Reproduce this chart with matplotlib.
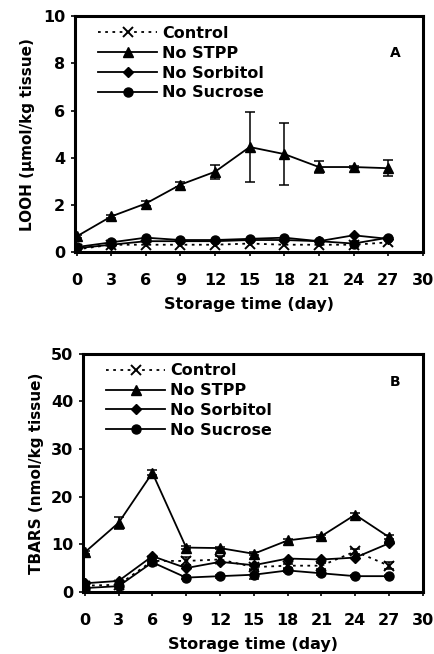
import matplotlib
matplotlib.use("Agg")
import matplotlib.pyplot as plt

plt.rcParams["font.family"] = ["DejaVu Sans"]
plt.rcParams["font.weight"] = "bold"

days = [0, 3, 6, 9, 12, 15, 18, 21, 24, 27]
x_ticks = [0, 3, 6, 9, 12, 15, 18, 21, 24, 27, 30]

# Panel A: LOOH (umol/kg tissue)
looh_control = [0.1, 0.3, 0.3, 0.3, 0.3, 0.35, 0.3, 0.3, 0.3, 0.4]
looh_no_stpp = [0.65, 1.5, 2.05, 2.85, 3.4, 4.45, 4.15, 3.6, 3.6, 3.55]
looh_no_stpp_err = [0.05, 0.08, 0.1, 0.1, 0.3, 1.5, 1.3, 0.25, 0.05, 0.35]
looh_no_sorbitol = [0.15, 0.3, 0.45, 0.45, 0.45, 0.5, 0.5, 0.45, 0.7, 0.55]
looh_no_sucrose = [0.2, 0.4, 0.6, 0.5, 0.5, 0.55, 0.6, 0.45, 0.35, 0.6]

# Panel B: TBARS (nmol/kg tissue)
tbars_control = [1.3, 1.5, 6.5, 6.5, 6.8, 5.2, 5.5, 5.5, 8.5, 5.5]
tbars_control_err = [0.2, 0.2, 0.3, 0.8, 0.8, 0.5, 0.4, 0.6, 0.5, 0.8]
tbars_no_stpp = [8.3, 14.5, 25.0, 9.3, 9.2, 8.0, 10.8, 11.7, 16.2, 11.5]
tbars_no_stpp_err = [0.3, 1.2, 0.5, 0.3, 0.3, 0.3, 0.3, 0.3, 0.4, 0.5]
tbars_no_sorbitol = [1.8, 2.3, 7.5, 5.0, 6.3, 5.6, 7.0, 6.8, 7.2, 10.2]
tbars_no_sucrose = [0.8, 1.2, 6.2, 3.0, 3.3, 3.6, 4.5, 3.9, 3.3, 3.3]
tbars_no_sucrose_err = [0.2, 0.2, 0.3, 0.3, 0.3, 1.0, 0.3, 0.3, 0.2, 0.2]

fig = plt.figure(figsize=(4.35, 6.54), dpi=100)
ax_a = fig.add_axes([0.172, 0.615, 0.800, 0.360])
ax_b = fig.add_axes([0.191, 0.095, 0.781, 0.364])

err_kw = dict(fmt="none", ecolor="black", capsize=3.5, elinewidth=1.1, capthick=1.1)


def draw_panel(ax, control, stpp, sorb, sucr, stpp_err, ctrl_err=None, sucr_err=None):
    ax.plot(days, control, color="black", lw=1.3, ls=(0, (1.5, 2.5)), marker="x",
            ms=6.5, mew=1.4, label="Control")
    ax.plot(days, stpp, color="black", lw=1.3, marker="^", ms=7, label="No STPP")
    ax.plot(days, sorb, color="black", lw=1.3, marker="D", ms=5, label="No Sorbitol")
    ax.plot(days, sucr, color="black", lw=1.3, marker="o", ms=6.5, label="No Sucrose")
    ax.errorbar(days, stpp, yerr=stpp_err, **err_kw)
    if ctrl_err is not None:
        ax.errorbar(days, control, yerr=ctrl_err, **err_kw)
    if sucr_err is not None:
        ax.errorbar(days, sucr, yerr=sucr_err, **err_kw)
    ax.set_xticks(x_ticks)
    for sp in ax.spines.values():
        sp.set_linewidth(2.2)
    ax.tick_params(axis="both", labelsize=11.5, width=1.2, length=3, direction="out")
    ax.tick_params(axis="x", pad=12)
    ax.tick_params(axis="y", pad=4)
    ax.legend(loc="upper left", frameon=False, fontsize=11.5, handlelength=3.7,
              handletextpad=0.3, labelspacing=0.3, borderaxespad=0.2,
              bbox_to_anchor=(0.04, 1.0))


draw_panel(ax_a, looh_control, looh_no_stpp, looh_no_sorbitol, looh_no_sucrose,
           looh_no_stpp_err)
ax_a.set_xlim(-0.15, 30)
ax_a.set_ylim(0, 10)
ax_a.set_yticks([0, 2, 4, 6, 8, 10])
ax_a.set_ylabel("LOOH (µmol/kg tissue)", fontsize=11, fontweight="bold", labelpad=6)
ax_a.set_xlabel("Storage time (day)", fontsize=11.5, fontweight="bold", labelpad=7)
ax_a.text(0.92, 0.845, "A", transform=ax_a.transAxes, fontsize=10, fontweight="bold",
          ha="center", va="center")

draw_panel(ax_b, tbars_control, tbars_no_stpp, tbars_no_sorbitol, tbars_no_sucrose,
           tbars_no_stpp_err, tbars_control_err, tbars_no_sucrose_err)
ax_b.set_xlim(-0.15, 30)
ax_b.set_ylim(0, 50)
ax_b.set_yticks([0, 10, 20, 30, 40, 50])
ax_b.set_ylabel("TBARS (nmol/kg tissue)", fontsize=11, fontweight="bold", labelpad=5)
ax_b.set_xlabel("Storage time (day)", fontsize=11.5, fontweight="bold", labelpad=7)
ax_b.text(0.918, 0.88, "B", transform=ax_b.transAxes, fontsize=10, fontweight="bold",
          ha="center", va="center")

fig.savefig("out.png", dpi=100)
